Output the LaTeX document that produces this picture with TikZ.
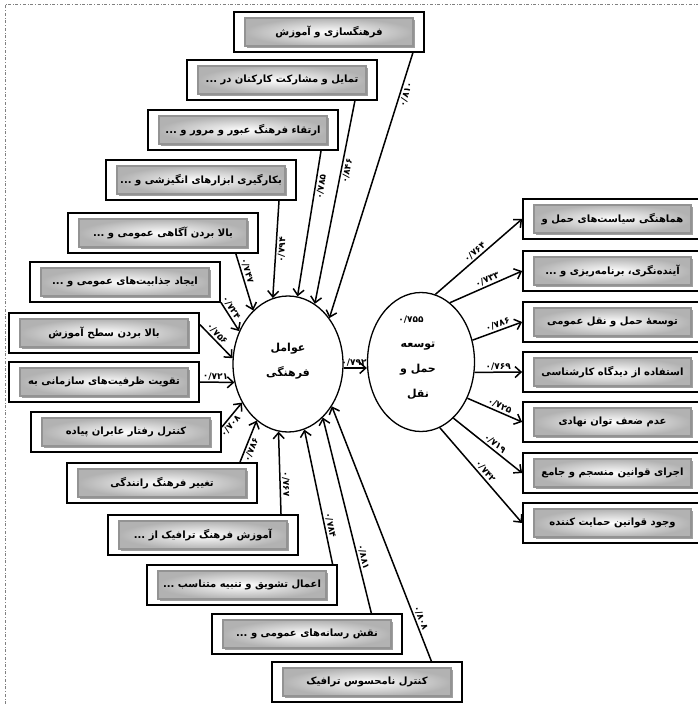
\documentclass[tikz,border=0pt]{standalone}
\usepackage{fontspec}
\newfontfamily\fafont[Script=Arabic]{DejaVu Sans}
\TeXXeTstate=1
\usetikzlibrary{arrows.meta,shapes.geometric}

\tikzset{
  factor/.style={draw, line width=1.8pt, minimum width=190pt, minimum height=40pt, inner sep=0pt,
    font=\fafont\bfseries\fontsize{10}{12}\selectfont,
    path picture={
      \fill[gray!75] ([shift={(12.5pt,4.5pt)}]path picture bounding box.south west) rectangle
      ([shift={(-9.5pt,-7.5pt)}]path picture bounding box.north east);
      \shade[inner color=white, outer color=gray!60, draw=gray!85]
      ([shift={(11pt,6pt)}]path picture bounding box.south west) rectangle
      ([shift={(-11pt,-6pt)}]path picture bounding box.north east);}},
  outcome/.style={factor, minimum width=179pt},
  latent/.style={ellipse, draw, line width=1.3pt, inner sep=0pt},
  circtext/.style={align=center, font=\fafont\bfseries\fontsize{11}{25}\selectfont},
  conn/.style={line width=1.5pt, -{Straight Barb[length=6pt,width=11pt]}},
  coef/.style={font=\fafont\bfseries\fontsize{9}{9}\selectfont, sloped, inner sep=1.5pt}
}

\begin{document}
\begin{tikzpicture}[x=1pt,y=-1pt]
\useasboundingbox (0,0) rectangle (698,704);
% frame
\draw[gray, dash dot] (5,704) -- (5,4) -- (698,4);

% latent variables
\node[latent, minimum width=110pt, minimum height=136pt] (lc) at (288,364) {};
\node[circtext] (lctext) at (288,361) {\beginR عوامل\endR\\\beginR فرهنگی\endR};
\node[latent, minimum width=107pt, minimum height=139pt] (rc) at (421,362) {};
\node[circtext] (rctext) at (418,371) {\beginR توسعه\endR\\\beginR حمل و\endR\\\beginR نقل\endR};
\node[coef, sloped=false] (rcnum) at (411,320) {۰/۷۵۵};

% cultural factors
\node[factor] (f1) at (329,32) {\beginR فرهنگسازی و آموزش\endR};
\node[factor] (f2) at (282,80) {\beginR تمایل و مشارکت کارکنان در ...\endR};
\node[factor] (f3) at (243,130) {\beginR ارتقاء فرهنگ عبور و مرور و ...\endR};
\node[factor] (f4) at (201,180) {\beginR بکارگیری ابزارهای انگیزشی و ...\endR};
\node[factor] (f5) at (163,233) {\beginR بالا بردن آگاهی عمومی و ...\endR};
\node[factor] (f6) at (125,282) {\beginR ایجاد جذابیت‌های عمومی و ...\endR};
\node[factor] (f7) at (104,333) {\beginR بالا بردن سطح آموزش\endR};
\node[factor] (f8) at (104,382) {\beginR تقویت ظرفیت‌های سازمانی به\endR};
\node[factor] (f9) at (126,432) {\beginR کنترل رفتار عابران پیاده\endR};
\node[factor] (f10) at (162,483) {\beginR تغییر فرهنگ رانندگی\endR};
\node[factor] (f11) at (203,535) {\beginR آموزش فرهنگ ترافیک از ...\endR};
\node[factor] (f12) at (242,585) {\beginR اعمال تشویق و تنبیه متناسب ...\endR};
\node[factor] (f13) at (307,634) {\beginR نقش رسانه‌های عمومی و ...\endR};
\node[factor] (f14) at (367,682) {\beginR کنترل نامحسوس ترافیک\endR};

% transport outcomes
\node[outcome] (g1) at (612.5,219) {\beginR هماهنگی سیاست‌های حمل و\endR};
\node[outcome] (g2) at (612.5,271) {\beginR آینده‌نگری، برنامه‌ریزی و ...\endR};
\node[outcome] (g3) at (612.5,322) {\beginR توسعهٔ حمل و نقل عمومی\endR};
\node[outcome] (g4) at (612.5,372) {\beginR استفاده از دیدگاه کارشناسی\endR};
\node[outcome] (g5) at (612.5,422) {\beginR عدم ضعف توان نهادی\endR};
\node[outcome] (g6) at (612.5,473) {\beginR اجرای قوانین منسجم و جامع\endR};
\node[outcome] (g7) at (612.5,523) {\beginR وجود قوانین حمایت کننده\endR};

% loadings into the cultural factor
\draw[conn] (f1.-14) -- node[coef, below, pos=0.15] {۰/۸۱۰} (lc.48);
\draw[conn] (f2.-16) -- node[coef, below, pos=0.34] {۰/۸۴۶} (lc.66);
\draw[conn] (f3.-15.5) -- node[coef, below, pos=0.24] {۰/۷۸۵} (lc.82);
\draw[conn] (f4.-15.5) -- node[coef, below, pos=0.5] {۰/۷۹۴} (lc.103);
\draw[conn] (f5.-16) -- node[coef, above, pos=0.33] {۰/۷۴۷} (lc.123);
\draw[conn] (f6.-12) -- node[coef, above, pos=0.3] {۰/۷۲۴} (lc.146);
\draw[conn] (f7.5) -- node[coef, above, pos=0.4] {۰/۷۵۶} (lc.174);
\draw[conn] (f8.east) -- node[coef, above, pos=0.45] {۰/۷۲۱} (lc.199);
\draw[conn] (f9.3) -- node[coef, below, pos=0.2] {۰/۷۰۸} (lc.220);
\draw[conn] (f10.15) -- node[coef, below, pos=0.35] {۰/۷۸۶} (lc.241);
\draw[conn] (f11.15) -- node[coef, above, pos=0.36] {۰/۷۶۷} (lc.262);
\draw[conn] (f12.13.5) -- node[coef, above, pos=0.28] {۰/۷۸۴} (lc.-76);
\draw[conn] (f13.18) -- node[coef, above, pos=0.28] {۰/۸۸۱} (lc.-57);
\draw[conn] (f14.18) -- node[coef, above, pos=0.16] {۰/۸۰۸} (lc.-44);

% path between latents
\draw[conn] (lc.east |- 0,368) -- node[coef, above, pos=0.45, inner sep=1pt] {۰/۷۹۲} (rc.west |- 0,368);

% loadings of the transport factor
\draw[conn] (rc.78) -- node[coef, above, pos=0.5] {۰/۷۶۴} (g1.west);
\draw[conn] (rc.64) -- node[coef, above, pos=0.55] {۰/۷۳۳} (g2.west);
\draw[conn] (rc.23) -- node[coef, above, pos=0.55] {۰/۷۸۶} (g3.west);
\draw[conn] (rc.-11) -- node[coef, above, pos=0.5] {۰/۷۶۹} (g4.west);
\draw[conn] (rc.-38) -- node[coef, above, pos=0.55] {۰/۷۲۵} (g5.west);
\draw[conn] (rc.-60) -- node[coef, above, pos=0.55] {۰/۷۱۹} (g6.west);
\draw[conn] (rc.-74) -- node[coef, above, pos=0.5] {۰/۷۴۲} (g7.west);
\end{tikzpicture}
\end{document}
